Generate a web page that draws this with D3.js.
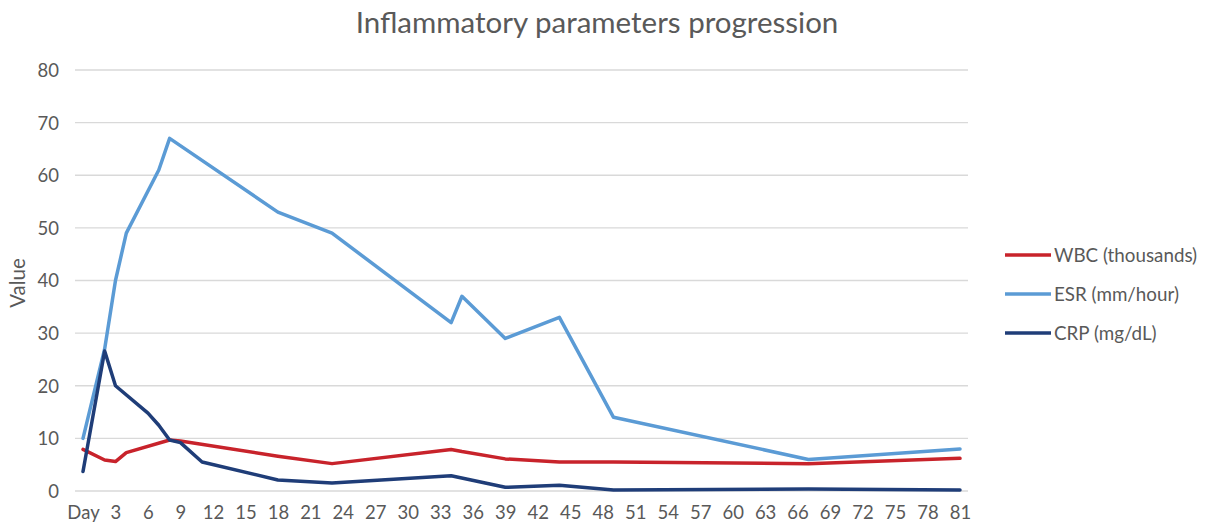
<!DOCTYPE html>
<html><head><meta charset="utf-8">
<script src="https://cdn.jsdelivr.net/npm/d3@7"></script>
<style>body{margin:0;background:#fff}svg{display:block}</style>
</head><body>
<svg id="c" width="1205" height="527"></svg>
<script>
const title = "Inflammatory parameters progression";
const yLabel = "Value";
const seriesNames = ["WBC (thousands)", "ESR (mm/hour)", "CRP (mg/dL)"];
const seriesColors = ["#C8232B", "#5B9BD5", "#1F3D78"];
const xTicks = d3.range(0, 82, 3);
const yTicks = [0,10,20,30,40,50,60,70,80];

const wbcDays = [0,2,3,4,8,9,18,23,34,35,39,44,49,67,81];
const wbcVals = [7.9,5.9,5.6,7.3,9.7,9.5,6.6,5.2,7.9,7.5,6.1,5.5,5.5,5.2,6.2];
const esrDays = [0,2,3,4,7,8,18,23,34,35,39,44,49,67,81];
const esrVals = [10,27,40,49,61,67,53,49,32,37,29,33,14,6,8];
const crpDays = [0,2,3,6,7,8,9,11,18,23,34,39,44,49,67,81];
const crpVals = [3.7,26.6,20,14.8,12.5,9.7,9.2,5.5,2.1,1.5,2.9,0.7,1.1,0.2,0.4,0.2];

const series = [
  {name: seriesNames[0], color: seriesColors[0], pts: wbcDays.map((d,i)=>[d,wbcVals[i]])},
  {name: seriesNames[1], color: seriesColors[1], pts: esrDays.map((d,i)=>[d,esrVals[i]])},
  {name: seriesNames[2], color: seriesColors[2], pts: crpDays.map((d,i)=>[d,crpVals[i]])}
];

const svg = d3.select("#c");
const font = "Lato, 'Open Sans', sans-serif";
const textColor = "#595959";
const x = d3.scaleLinear().domain([0,81]).range([83,960]);
const y = d3.scaleLinear().domain([0,80]).range([491,70]);

// gridlines
svg.append("g").selectAll("line").data(yTicks).join("line")
  .attr("x1",75).attr("x2",968)
  .attr("y1",d=>y(d)).attr("y2",d=>y(d))
  .attr("stroke","#d9d9d9").attr("stroke-width",1.3);

// y axis labels
const yAxis = d3.axisLeft(y).tickValues(yTicks).tickSize(0).tickPadding(0);
const gy = svg.append("g").attr("transform","translate(59,0)").call(yAxis);
gy.select(".domain").remove();
gy.selectAll("text").attr("font-family",font).attr("font-size",18.5).attr("fill",textColor).attr("dy","0.35em");

// x axis labels
const xAxis = d3.axisBottom(x).tickValues(xTicks).tickSize(0).tickPadding(0)
  .tickFormat(d=> d===0 ? "Day" : d);
const gx = svg.append("g").attr("transform","translate(0,506)").call(xAxis);
gx.select(".domain").remove();
gx.selectAll("text").attr("font-family",font).attr("font-size",18.5).attr("fill",textColor).attr("dy","0.71em");

// lines
const line = d3.line().x(d=>x(d[0])).y(d=>y(d[1]));
svg.append("g").selectAll("path").data(series).join("path")
  .attr("d",d=>line(d.pts)).attr("fill","none")
  .attr("stroke",d=>d.color).attr("stroke-width",3.5)
  .attr("stroke-linejoin","round").attr("stroke-linecap","round");

// title
svg.append("text").attr("x",597).attr("y",33).attr("text-anchor","middle")
  .attr("font-family",font).attr("font-size",29.5).attr("fill",textColor).text(title);

// y label
svg.append("text").attr("transform","translate(25,283) rotate(-90)").attr("text-anchor","middle")
  .attr("font-family",font).attr("font-size",20.5).attr("fill",textColor).text(yLabel);

// legend
const lg = svg.append("g").selectAll("g").data(series).join("g")
  .attr("transform",(d,i)=>`translate(1005,${255+i*39})`);
lg.append("line").attr("x1",0).attr("x2",46).attr("stroke",d=>d.color).attr("stroke-width",3.5);
lg.append("text").attr("x",49).attr("dy","0.35em").attr("font-family",font).attr("font-size",18.8)
  .attr("fill",textColor).text(d=>d.name);
</script>
</body></html>
